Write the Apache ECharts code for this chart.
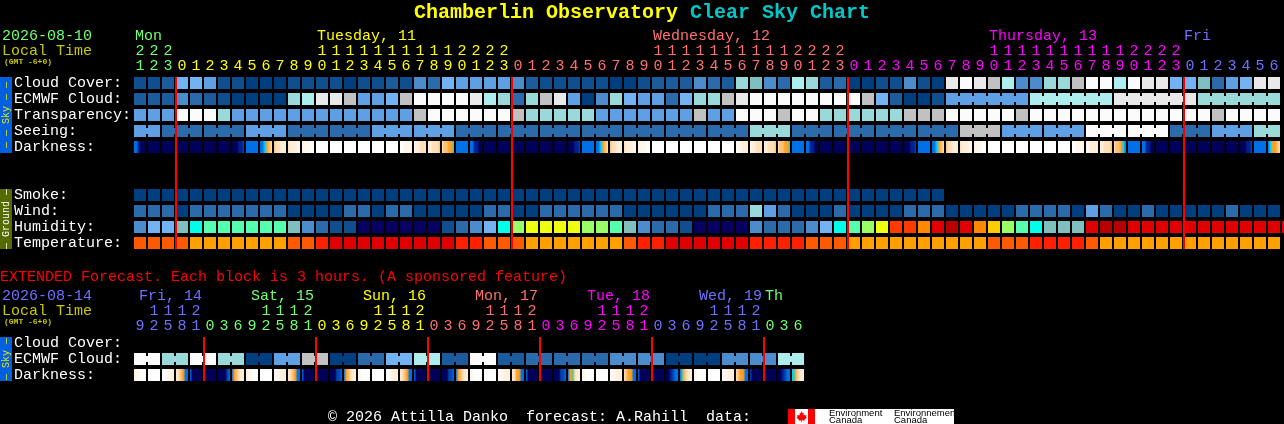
<!DOCTYPE html>
<html><head><meta charset="utf-8">
<style>html,body{margin:0;padding:0;background:#000;overflow:hidden}#c{width:1284px;height:424px}</style>
<script src="https://cdn.jsdelivr.net/npm/echarts@6/dist/echarts.min.js"></script>
</head><body><div id="c"></div>
<script>
// ---------- data ----------
const mainHours = [21,22,23,0,1,2,3,4,5,6,7,8,9,10,11,12,13,14,15,16,17,18,19,20,21,22,23,
  0,1,2,3,4,5,6,7,8,9,10,11,12,13,14,15,16,17,18,19,20,21,22,23,
  0,1,2,3,4,5,6,7,8,9,10,11,12,13,14,15,16,17,18,19,20,21,22,23,
  0,1,2,3,4,5,6];
const extHours = [9,12,15,18,21,0,3,6,9,12,15,18,21,0,3,6,9,12,15,18,21,0,3,6,
  9,12,15,18,21,0,3,6,9,12,15,18,21,0,3,6,9,12,15,18,21,0,3,6];
const mainRowNames = ['Cloud Cover:','ECMWF Cloud:','Transparency:','Seeing:','Darkness:','','','Smoke:','Wind:','Humidity:','Temperature:'];
const extRowNames = ['Cloud Cover:','ECMWF Cloud:','Darkness:'];
const mainDays = ['Mon','Tuesday, 11','Wednesday, 12','Thursday, 13','Fri'];
const mainDayStart = [0,13,37,61,75];
const extDays = ['Fri, 14','Sat, 15','Sun, 16','Mon, 17','Tue, 18','Wed, 19','Th'];
const extDayStart = [0,8,16,24,32,40,45];

const cloudCover = [1,1,2,6,6,5,1,1,0,0,0,1,1,1,1,0,1,1,2,1,4,3,6,5,5,5,5,
  4,2,1,1,1,1,1,0,0,1,2,2,2,4,3,2,8,7,4,3,9,8,2,3,
  0,0,1,1,4,1,0,11,12,11,10,9,4,4,8,8,10,12,12,9,12,11,11,
  6,6,7,3,5,6,11,11];
const ecmwfCloud = [2,2,2,4,3,2,1,0,0,0,0,8,9,11,11,10,5,5,6,10,12,12,12,12,11,9,8,
  3,8,10,11,5,0,4,8,6,5,5,3,6,8,8,10,11,12,12,12,12,12,12,12,
  12,10,6,2,0,0,1,5,5,5,5,5,5,9,9,9,9,9,9,11,11,11,11,11,11,
  8,8,8,8,8,8];
const transparency = [5,5,5,12,12,12,8,5,5,5,5,5,5,5,5,5,5,5,5,5,10,12,12,12,12,12,12,
  10,8,8,8,8,8,5,5,5,5,5,5,5,10,5,5,12,12,12,10,12,12,8,8,
  8,8,8,8,10,10,10,12,12,12,12,12,10,12,12,12,12,12,12,12,12,12,12,
  12,12,12,10,12,12,12,12];
const seeing = [5,5,3,3,3,3,3,3,5,5,5,3,3,3,3,3,3,5,5,5,5,5,5,3,3,3,3,
  3,3,3,3,3,3,3,3,3,3,3,3,3,3,3,3,3,8,8,8,3,3,3,3,
  3,3,3,3,3,3,3,3,10,10,10,5,5,5,5,5,5,12,12,12,12,12,12,
  3,3,3,5,5,5,8,8];
const seeingBlockStart = 2;
const ecmwfBlockStart = 58;
const darkness = ['BBKNNN','NNNNNN','NNNNNN','NNNNNN','NNNNNN','NNNNNN','NNNNNN','NNNKKM','BBBBBB','BBYOED','EDDCCC','DCCCVV','CVVVWW',
  'WWWWWW','WWWWWW','WWWWWW','WWWWWW','WWWWWW','WWWWWW','WWVVVC','VCCDDD','CCDDDE','DEEOOY','BBBBBB','BBKKNN','NNNNNN','NNNNNN',
  'NNNNNN','NNNNNN','NNNNNN','NNNNNN','NNNKKM','BBBBBB','BBYOED','EDDCCC','DCCCVV','CVVVWW',
  'WWWWWW','WWWWWW','WWWWWW','WWWWWW','WWWWWW','WWWWWW','WVVCCC','VCCDDD','CCDDDE','DEEOOY','BBBBBB','BBKKNN','NNNNNN','NNNNNN',
  'NNNNNN','NNNNNN','NNNNNN','NNNNNN','NNNKKM','BBBBBB','BBYOED','EDDCCC','DCCCVV','CVVVWW','VWWWWW',
  'WWWWWW','WWWWWW','WWWWWW','WWWWWW','WWWWWW','WWVVVV','VVCCCC','CCDDDE','DEEOYB','BBBBBB','BBKKNN','NNNNNN','NNNNNN',
  'NNNNNN','NNNNNN','NNNNNN','NNNNNN','NNNKKM','BBBBBB','BYOOED'];
const smoke = [0,0,0,0,0,0,0,0,0,0,0,0,0,0,0,0,0,0,0,0,0,0,0,0,0,0,0,0,0,0,0,0,0,0,0,0,0,0,0,0,0,0,0,0,0,0,0,0,0,0,0,0,0,0,0,0,0,0];
const wind = [3,3,3,0,3,3,3,3,3,3,3,0,0,0,0,3,3,0,3,3,0,0,0,0,0,3,3,
  0,0,3,3,3,3,3,3,0,0,0,0,0,0,3,3,3,8,5,3,0,0,0,3,
  0,0,0,0,3,3,3,0,0,0,0,0,3,3,3,3,0,5,3,0,0,3,0,
  0,0,0,0,3,0,0,0];
const humidity = [4,6,6,7,'c','m','m','m','m','m','m',7,4,3,1,1,'n','n','n','n','n','n',1,3,4,6,'c',
  'l','y','y','y','y','l','l','m',7,4,3,3,1,'n','n','n','n',4,3,3,3,4,6,'c',
  'm','l','y','f','f','o','r','d','r','o','g','l','m','c',7,7,7,'r','d','d','r','r','r','r',
  'r','r','r','r','r','r','r','r'];
const temperature = ['s','s','s','s','a','a','a','a','a','a','a','s','s','t','e','e','e','e','e','e','e','e','e','t','t','s','s',
  's','a','a','a','a','a','a','a','s','t','t','e','e','e','e','e','e','t','t','t','t','s','s','s',
  'a','a','a','a','a','a','a','a','a','a','s','s','s','t','t','t','t','s','a','a','a','a','a',
  'a','a','a','a','a','a','a','a'];
const extEcmwf = [12,12,8,8,12,12,8,8,0,0,5,5,10,10,0,0,3,3,6,6,9,9,2,2,12,12,2,2,3,3,3,3,3,3,4,4,4,4,0,0,0,0,4,4,4,4,9,9];
const extDarkness = ['CVVWWW','WWWWWW','WWVVCC','CDEOBB','BNNNNN','NNNNNN','NNNNMB','BOEDCC',
  'CVVWWW','WWWWWW','WVVCCC','CDEOBB','BNNNNN','NNNNNN','NNNMMB','BOEDCC',
  'VVWWWW','WWWWWW','WWVCCC','CDEOBB','BNNNNN','NNNNNN','NNNMMB','BOEDCC',
  'VVWWWW','WWWWWW','WVVCCC','CDOOBB','BNNNNN','NNNNNN','NNNMMB','BOGDCC',
  'VVWWWW','WWWWWW','WVVCCC','DEOOBB','BNNNNN','NNNNNN','NNKMBB','BGEDCC',
  'VVWWWW','WWWWWW','WVVCCC','DEOOBB','MNNNNN','NNNNNN','NNKMBB','YGEDCC'];

// ---------- palettes ----------
const skyPalette = ['#003F7F','#0F4F8F','#1C5C9C','#2B6BAB','#4C8CCC','#5F9FE3','#73B3F3','#7FBFBF','#99D9D9','#ADEDED','#C1C1C1','#E9E9E9','#FBFBFB'];
const humidPalette = {n:'#080060',c:'#00FFE8',m:'#55FFAD',l:'#99FF66',y:'#EEFF11',g:'#FFCC00',o:'#FF8800',f:'#FF3A00',r:'#E00000',d:'#B80000'};
const tempPalette = {a:'#FFA000',s:'#FF5A00',t:'#FF2000',e:'#E00000'};
const darkPalette = {W:'#FFFFFF',V:'#FFF7EC',C:'#FFEEDA',D:'#FFDFB8',E:'#FFC070',O:'#FFA020',Y:'#00D0FF',G:'#60C090',B:'#0070E8',M:'#0048B8',K:'#002090',N:'#00005A'};

const C = {white:'#FFFFFF',green:'#70FF70',yellow:'#FFFF00',salmon:'#FF7070',magenta:'#FF00FF',peri:'#7070FF',
  local:'#C8C800',title:'#FFFF00',teal:'#00C8C8',red:'#FF0000',sky:'#0060E0',ground:'#556B00',skyText:'#E8E800'};
const mainDayColors = [C.green,C.yellow,C.salmon,C.magenta,C.peri];
const extDayColors = [C.peri,C.green,C.yellow,C.salmon,C.magenta,C.peri,C.green];
const FONT = '"Liberation Mono","DejaVu Sans Mono",monospace';

// ---------- helpers ----------
function dayColorsFor(hours, colors){
  let d = 0;
  return hours.map((h,i)=>{ if(i>0 && h<hours[i-1]) d++; return colors[d]; });
}
function midnights(hours){
  const out=[]; hours.forEach((h,i)=>{ if(h===0) out.push(i); }); return out;
}
const mainColors = dayColorsFor(mainHours, mainDayColors);
const extColors = dayColorsFor(extHours, extDayColors);
const unitLabels = (hs,cs)=>hs.map((h,i)=>({value:String(h%10),textStyle:{color:cs[i]}}));
const tensLabels = (hs,cs)=>hs.map((h,i)=>({value:h>=10?String(Math.floor(h/10)):' ',textStyle:{color:cs[i]}}));

function rowData(row, values, colorOf, bridged){
  return values.map((v,i)=>({value:[i,row], color:colorOf(v), bridge:bridged?bridged(i):false}));
}
const sky = v=>skyPalette[v];
const mainBridgeSeeing = i=> i<81 && (i+1-seeingBlockStart)%3!==0;
const mainBridgeEcmwf = i=> i>=ecmwfBlockStart && i<81 && (i+1-ecmwfBlockStart)%6!==0;
const extBridge = i=> i%2===0;
const humid = v=> typeof v==='number'?skyPalette[v]:humidPalette[v];
const darkFill = s=>{
  const a=s.split('');
  if(a.every(x=>x===a[0])) return darkPalette[a[0]];
  return new echarts.graphic.LinearGradient(0,0,1,0,a.map((k,j)=>({offset:j/(a.length-1),color:darkPalette[k]})));
};

const mainCells = [].concat(
  rowData(0,cloudCover,sky), rowData(1,ecmwfCloud,sky,mainBridgeEcmwf), rowData(2,transparency,sky),
  rowData(3,seeing,sky,mainBridgeSeeing), rowData(4,darkness,darkFill),
  rowData(7,smoke,sky), rowData(8,wind,sky), rowData(9,humidity,humid), rowData(10,temperature,v=>tempPalette[v]));
const extCells = [].concat(rowData(1,extEcmwf,sky,extBridge), rowData(2,extDarkness,darkFill));

function cellRender(cells){
  return function(params,api){
    const d = cells[params.dataIndex];
    const p = api.coord([api.value(0),api.value(1)]);
    const s = api.size([1,1]);
    const x = Math.round(p[0]-s[0]/2+1), y = Math.round(p[1]-s[1]/2+2), w = s[0]-2, h = s[1]-4;
    const children = [{type:'rect',shape:{x,y,width:w,height:h},style:{fill:d.color}}];
    if(d.bridge) children.push({type:'rect',shape:{x:x+w,y:y+3,width:2,height:h-6},style:{fill:d.color}});
    return {type:'group',children};
  };
}
function midnightRender(lastRow){
  return function(params,api){
    const top = api.coord([api.value(0),0]);
    const bot = api.coord([api.value(0),lastRow]);
    const s = api.size([1,1]);
    return {type:'rect',z2:10,shape:{x:Math.round(top[0]-s[0]/2),y:top[1]-s[1]/2+2,width:2,height:bot[1]-top[1]+s[1]-4},style:{fill:C.red}};
  };
}
function dayRender(days,colors,nudges,topPx){
  return function(params,api){
    const p = api.coord([api.value(0),0]);
    const i = params.dataIndex;
    return {type:'text',style:{x:p[0]+nudges[i],y:topPx,text:days[i],fill:colors[i],font:'15px '+FONT,textVerticalAlign:'middle',textAlign:'left'}};
  };
}
function xAxes(gridIndex,hours,colors){
  const base = {type:'category',gridIndex,position:'top',axisLine:{show:false},axisTick:{show:false},splitLine:{show:false}};
  const label = {interval:0,fontFamily:FONT,fontSize:15,hideOverlap:false,margin:1,color:C.white};
  return [
    Object.assign({},base,{data:unitLabels(hours,colors),axisLabel:label}),
    Object.assign({},base,{offset:15,data:tensLabels(hours,colors),axisLabel:label})
  ];
}
function sideBar(y,h,fill,text,color){
  return [
    {type:'rect',shape:{x:0,y,width:12,height:h},style:{fill},silent:true},
    {type:'text',x:6,y:y+h/2,rotation:Math.PI/2,style:{text,fill:color,font:'10px '+FONT,textAlign:'center',textVerticalAlign:'middle'},silent:true}
  ];
}
function label(x,y,text,fill,size,family,weight){
  return {type:'text',x,y,style:{text,fill,font:(weight?weight+' ':'')+(size||15)+'px '+(family||FONT),textVerticalAlign:'middle'},silent:true};
}
const rowLabel = {interval:0,align:'left',margin:119,color:C.white,fontFamily:FONT,fontSize:15};
// maple-leaf outline in logo-local pixels
const leaf = [[9.5,0],[11,3],[13,2.2],[12.3,6],[14,4.5],[15,6],[17.5,5.6],[16.6,8],[18,9],[14,11.8],[14.4,13],[10,12.4],[10,15],[9,15],[9,12.4],[4.6,13],[5,11.8],[1,9],[2.4,8],[1.5,5.6],[4,6],[5,4.5],[6.7,6],[6,2.2],[8,3]];

const chart = echarts.init(document.getElementById('c'),null,{renderer:'canvas',width:1284,height:424});
chart.setOption({
  animation:false,
  backgroundColor:'#000',
  grid:[
    {left:133,top:75,width:1148,height:176},
    {left:133,top:335,width:672,height:48}
  ],
  xAxis:[...xAxes(0,mainHours,mainColors),...xAxes(1,extHours,extColors)],
  yAxis:[
    {type:'category',gridIndex:0,inverse:true,data:mainRowNames,axisLine:{show:false},axisTick:{show:false},splitLine:{show:false},axisLabel:rowLabel},
    {type:'category',gridIndex:1,inverse:true,data:extRowNames,axisLine:{show:false},axisTick:{show:false},splitLine:{show:false},axisLabel:rowLabel}
  ],
  series:[
    {type:'custom',xAxisIndex:0,yAxisIndex:0,coordinateSystem:'cartesian2d',silent:true,clip:false,z:2,
     data:mainCells.map(c=>c.value),renderItem:cellRender(mainCells),encode:{x:0,y:1}},
    {type:'custom',xAxisIndex:2,yAxisIndex:1,coordinateSystem:'cartesian2d',silent:true,clip:false,z:2,
     data:extCells.map(c=>c.value),renderItem:cellRender(extCells),encode:{x:0,y:1}},
    {type:'custom',xAxisIndex:0,yAxisIndex:0,silent:true,clip:false,z:50,
     data:midnights(mainHours).map(i=>[i,0]),renderItem:midnightRender(10),encode:{x:0,y:1}},
    {type:'custom',xAxisIndex:2,yAxisIndex:1,silent:true,clip:false,z:50,
     data:midnights(extHours).map(i=>[i,0]),renderItem:midnightRender(2),encode:{x:0,y:1}},
    {type:'custom',xAxisIndex:0,yAxisIndex:0,silent:true,clip:false,
     data:mainDayStart.map(i=>[i,0]),renderItem:dayRender(mainDays,mainDayColors,[-5,-5,-5,-5,-6],36),encode:{x:0,y:1}},
    {type:'custom',xAxisIndex:2,yAxisIndex:1,silent:true,clip:false,
     data:extDayStart.map(i=>[i,0]),renderItem:dayRender(extDays,extDayColors,[-1,-1,-1,-1,-1,-1,-5],296),encode:{x:0,y:1}}
  ],
  title:{left:414,top:3,padding:0,text:'{a|Chamberlin Observatory }{b|Clear Sky Chart}',
    textStyle:{rich:{a:{color:C.title,fontFamily:FONT,fontWeight:'bold',fontSize:20},b:{color:C.teal,fontFamily:FONT,fontWeight:'bold',fontSize:20}}}},
  graphic:[
    ...sideBar(77,76,C.sky,'\u2014 \u2014 Sky \u2014 \u2014',C.skyText),
    ...sideBar(189,60,C.ground,'\u2014 Ground \u2014',C.white),
    ...sideBar(337,44,C.sky,'\u2014 Sky \u2014',C.skyText),
    label(2,36,'2026-08-10',C.green),
    label(2,51,'Local Time',C.local),
    label(4,62,'(GMT -6+0)',C.local,8,null,'bold'),
    label(0,277,'EXTENDED Forecast. Each block is 3 hours. (A sponsored feature)',C.red),
    label(2,296,'2026-08-14',C.peri),
    label(2,311,'Local Time',C.local),
    label(4,322,'(GMT -6+0)',C.local,8,null,'bold'),
    label(328,417,'\u00A9 2026 Attilla Danko  forecast: A.Rahill  data:',C.white),
    {type:'rect',shape:{x:788,y:409,width:166,height:15},style:{fill:'#fff'},silent:true},
    {type:'rect',shape:{x:788,y:409,width:7,height:15},style:{fill:'#f00'},silent:true},
    {type:'rect',shape:{x:808,y:409,width:7,height:15},style:{fill:'#f00'},silent:true},
    {type:'polygon',x:796,y:411,scaleX:0.6,scaleY:0.75,shape:{points:leaf},style:{fill:'#f00'},silent:true},
    label(829,413,'Environment','#000',9.5,'"Liberation Sans"'),
    label(829,420,'Canada','#000',9.5,'"Liberation Sans"'),
    label(894,413,'Environnement','#000',9.5,'"Liberation Sans"'),
    label(894,420,'Canada','#000',9.5,'"Liberation Sans"')
  ]
});
</script>
</body></html>
